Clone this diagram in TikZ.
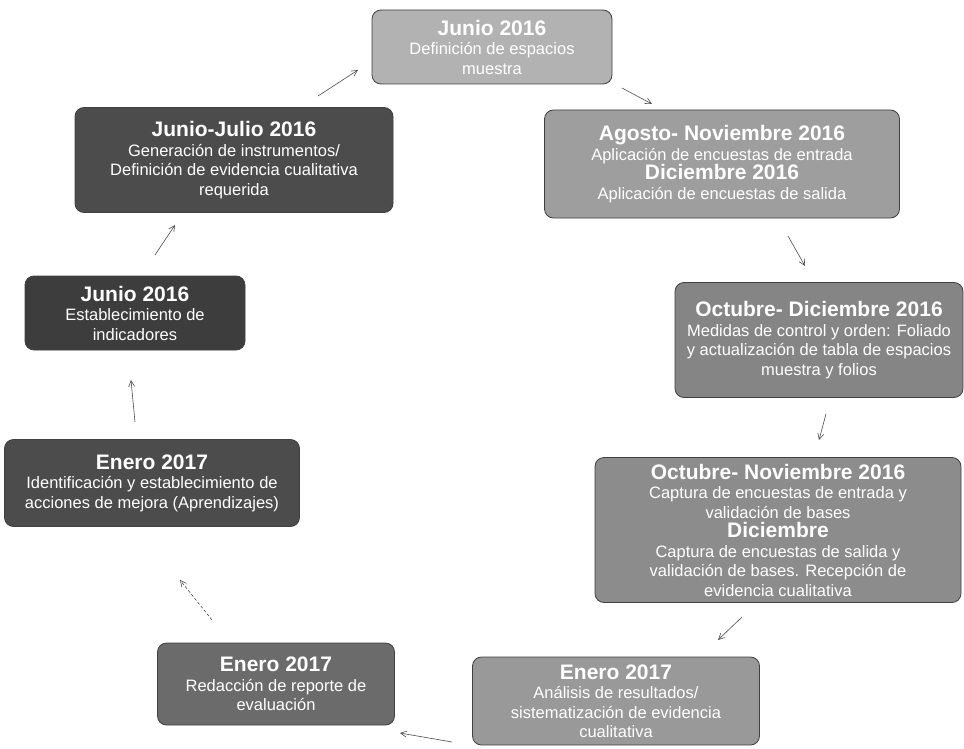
\documentclass[tikz,border=0pt]{standalone}
\usepackage{fontspec}
\setmainfont{Liberation Sans}
\usetikzlibrary{arrows.meta}
\tikzset{
  stage/.style={draw=black!75, line width=0.8pt, rounded corners=9pt, text=white, align=center, inner sep=1pt, font=\fontsize{16.5}{19.5}\selectfont},
  link/.style={draw=black!70, line width=0.6pt, -{Straight Barb[length=6pt,width=6pt]}}
}
\newcommand{\hd}[1]{{\fontsize{21}{21}\selectfont\bfseries #1}}
\begin{document}
\begin{tikzpicture}[x=1pt,y=-1pt]
\useasboundingbox (0,0) rectangle (964,749);
\fill[white] (0,0) rectangle (964,749);

\node[stage, fill=black!30, minimum width=240pt, minimum height=74pt] (n1) at (492,47)
  {\hd{Junio 2016}\\Definición de espacios\\muestra};
\node[stage, fill=black!38, minimum width=355pt, minimum height=108pt] (n2) at (722,164)
  {\hd{Agosto- Noviembre 2016}\\Aplicación de encuestas de entrada\\\hd{Diciembre 2016}\\Aplicación de encuestas de salida};
\node[stage, fill=black!48, minimum width=288pt, minimum height=115pt] (n3) at (819,340)
  {\hd{Octubre- Diciembre 2016}\\Medidas de control y orden: Foliado\\y actualización de tabla de espacios\\muestra y folios};
\node[stage, fill=black!45, minimum width=366pt, minimum height=145pt] (n4) at (778,530)
  {\hd{Octubre- Noviembre 2016}\\Captura de encuestas de entrada y\\validación de bases\\\hd{Diciembre}\\Captura de encuestas de salida y\\validación de bases. Recepción de\\evidencia cualitativa};
\node[stage, fill=black!40, minimum width=287pt, minimum height=88pt] (n5) at (616,701)
  {\hd{Enero 2017}\\Análisis de resultados/\\sistematización de evidencia\\cualitativa};
\node[stage, fill=black!58, minimum width=237pt, minimum height=82pt] (n6) at (276,684)
  {\hd{Enero 2017}\\Redacción de reporte de\\evaluación};
\node[stage, fill=black!70, minimum width=295pt, minimum height=87pt] (n7) at (152,483)
  {\hd{Enero 2017}\\Identificación y establecimiento de\\acciones de mejora (Aprendizajes)};
\node[stage, fill=black!76, minimum width=220pt, minimum height=74pt] (n8) at (135,313)
  {\hd{Junio 2016}\\Establecimiento de\\indicadores};
\node[stage, fill=black!70, minimum width=318pt, minimum height=105pt] (n9) at (234,160)
  {\hd{Junio-Julio 2016}\\Generación de instrumentos/\\Definición de evidencia cualitativa\\requerida};

\coordinate (t91) at (318,96);  \coordinate (h91) at (358,70);
\coordinate (t12) at (622,88);  \coordinate (h12) at (652,104);
\coordinate (t23) at (788,236); \coordinate (h23) at (805,266);
\coordinate (t34) at (826,414); \coordinate (h34) at (819,440);
\coordinate (t45) at (742,617); \coordinate (h45) at (718,640);
\coordinate (t56) at (452,742); \coordinate (h56) at (400,733);
\coordinate (t67) at (212,620); \coordinate (h67) at (180,580);
\coordinate (t78) at (135,422); \coordinate (h78) at (131,380);
\coordinate (t89) at (155,255); \coordinate (h89) at (175,225);

\draw[link] (t91) -- (h91);
\draw[link] (t12) -- (h12);
\draw[link] (t23) -- (h23);
\draw[link] (t34) -- (h34);
\draw[link] (t45) -- (h45);
\draw[link] (t56) -- (h56);
\draw[link, densely dashed] (t67) -- (h67);
\draw[link] (t78) -- (h78);
\draw[link] (t89) -- (h89);
\end{tikzpicture}
\end{document}
